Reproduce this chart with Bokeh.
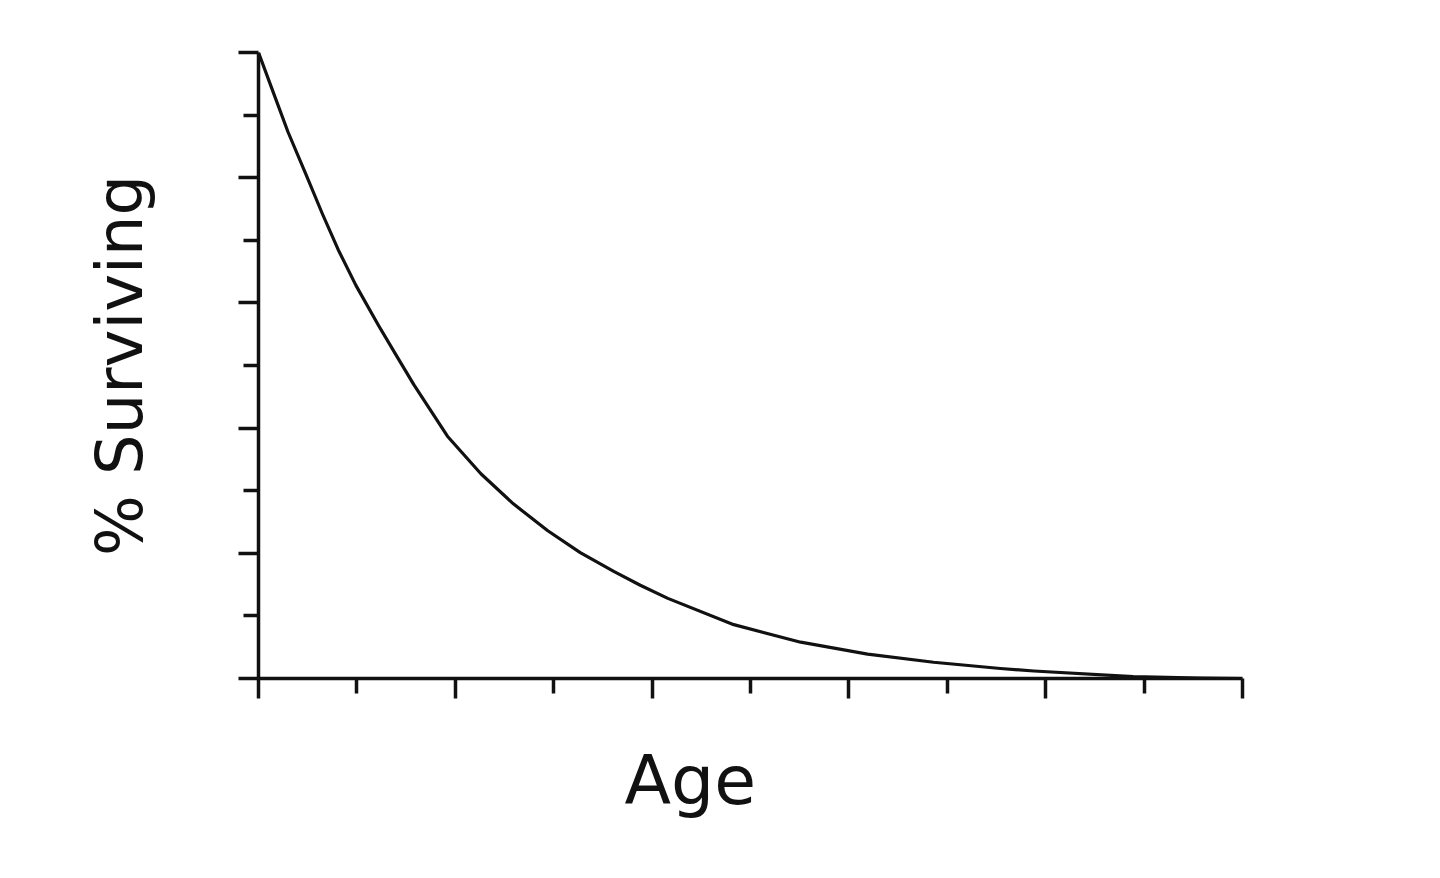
from bokeh.plotting import figure
from bokeh.models import FixedTicker, Range1d, CustomJSTickFormatter, Title
from bokeh.embed import file_html
from bokeh.resources import INLINE

# Data (Age in arbitrary units 0-10, % surviving)
age = [0, 0.17, 0.30, 0.48, 0.65, 0.81, 0.99, 1.22, 1.42, 1.58, 1.92, 2.26, 2.59,
       2.94, 3.27, 3.61, 3.88, 4.16, 4.83, 5.51, 6.19, 6.86, 7.54, 7.88, 8.89, 9.57, 10]
surviving = [100, 92.8, 87.3, 80.6, 74.2, 68.5, 62.8, 56.4, 51.1, 46.9, 38.7, 32.7, 27.9,
             23.6, 20.1, 17.1, 14.9, 12.8, 8.6, 5.8, 3.9, 2.6, 1.6, 1.2, 0.3, 0.05, 0.0]

x_major = [0, 2, 4, 6, 8, 10]
x_minor = [1, 3, 5, 7, 9]
y_major = [0, 20, 40, 60, 80, 100]
y_minor = [10, 30, 50, 70, 90]

x_label = "Age"
y_label = "% Surviving"

FONT = "DejaVu Sans"
INK = "#111111"

p = figure(width=1424, height=862, output_backend="svg", toolbar_location=None,
           x_range=Range1d(0, 10), y_range=Range1d(0, 100),
           min_border_left=258, min_border_right=182,
           min_border_top=52, min_border_bottom=184)
p.outline_line_color = None
p.xgrid.visible = False
p.ygrid.visible = False
p.background_fill_color = "white"
p.border_fill_color = "white"

blank = CustomJSTickFormatter(code="return ''")

for ax in (p.xaxis[0], p.yaxis[0]):
    ax.axis_line_color = INK
    ax.axis_line_width = 3.5
    ax.major_tick_line_color = INK
    ax.major_tick_line_width = 3.5
    ax.minor_tick_line_color = INK
    ax.minor_tick_line_width = 3.5
    ax.major_tick_in = 0
    ax.major_tick_out = 20
    ax.minor_tick_in = 0
    ax.minor_tick_out = 15
    ax.formatter = blank
    ax.major_label_text_font_size = "10px"

p.xaxis[0].ticker = FixedTicker(ticks=x_major, minor_ticks=x_minor)
p.yaxis[0].ticker = FixedTicker(ticks=y_major, minor_ticks=y_minor)

p.yaxis[0].axis_label = y_label
p.yaxis[0].axis_label_text_font = FONT
p.yaxis[0].axis_label_text_font_size = "64px"
p.yaxis[0].axis_label_text_font_style = "normal"
p.yaxis[0].axis_label_text_color = INK
p.yaxis[0].axis_label_standoff = 82

# x label, placed left of centre like the reference
p.add_layout(Title(text=x_label, align="left", offset=366, standoff=81,
                   text_font=FONT, text_font_size="68px", text_font_style="normal",
                   text_color=INK), "below")

p.line(age, surviving, line_color=INK, line_width=3.2, line_join="round")

open("out.html", "w").write(file_html(p, INLINE))
